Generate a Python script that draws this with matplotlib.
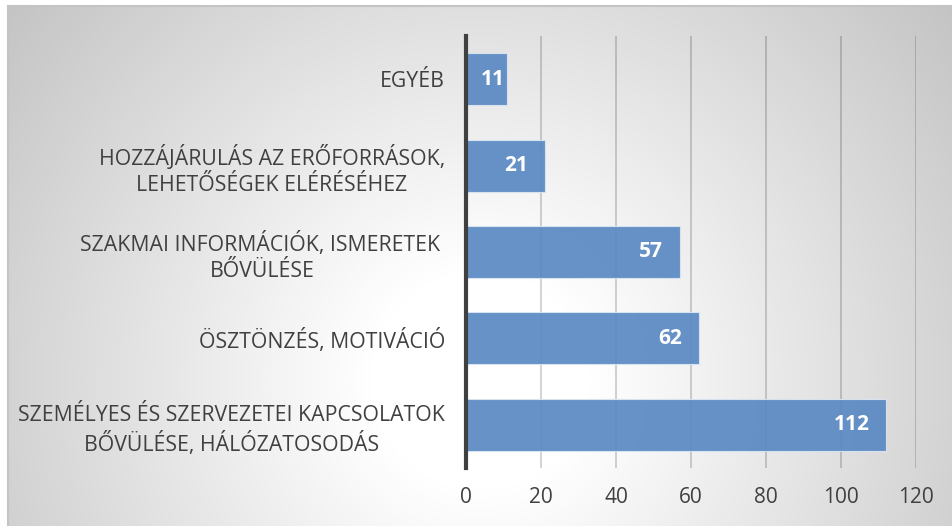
import numpy as np
import matplotlib
matplotlib.use("Agg")
import matplotlib.pyplot as plt
from matplotlib.patches import Rectangle

categories = [
    "SZEMÉLYES ÉS SZERVEZETEI KAPCSOLATOK\nBŐVÜLÉSE, HÁLÓZATOSODÁS",
    "ÖSZTÖNZÉS, MOTIVÁCIÓ",
    "SZAKMAI INFORMÁCIÓK, ISMERETEK \nBŐVÜLÉSE",
    "HOZZÁJÁRULÁS AZ ERŐFORRÁSOK,\nLEHETŐSÉGEK ELÉRÉSÉHEZ",
    "EGYÉB",
]
values = [112, 62, 57, 21, 11]
xticks = [0, 20, 40, 60, 80, 100, 120]

W, H = 952, 526
fig = plt.figure(figsize=(W / 100, H / 100), dpi=100)
fig.patch.set_facecolor("white")

# background radial gradient panel
bg = fig.add_axes([8 / W, 0, 1 - 8 / W, 1 - 6 / H])
bg.set_axis_off()
yy, xx = np.mgrid[6:H:1.0, 8:W:1.0]
r = np.hypot(xx - 480, yy - 380)
t = np.clip((r - 110) / (600 - 110), 0, 1)
shade = 1 - 0.23 * t
bg.imshow(np.dstack([shade] * 3), aspect="auto", extent=[0, 1, 0, 1], origin="upper")
bg.set_xlim(0, 1)
bg.set_ylim(0, 1)
fig.add_artist(Rectangle((8 / W, -0.01), 1, 1 - 6 / H + 0.01, transform=fig.transFigure,
                         fill=False, edgecolor="#c4c4c4", linewidth=1.5))

ax = fig.add_axes([466 / W, 1 - 468 / H, (916 - 466) / W, (468 - 36) / H])
ax.patch.set_alpha(0)
font = "Open Sans"
ypos = np.arange(len(categories))
ax.barh(ypos, values, height=0.6, color="#5a89c3", alpha=0.92,
        edgecolor="#dce6f2", linewidth=0.8, zorder=3)
ax.set_xlim(0, 120)
ax.set_ylim(-0.5, len(categories) - 0.5)
ax.set_xticks(xticks)
ax.set_xticklabels([str(v) for v in xticks], fontsize=15, color="#404040", family=font)
ax.set_yticks(ypos)
ax.set_yticklabels(categories, fontsize=15.3, color="#404040", family=font,
                   multialignment="center", linespacing=1.3)
ax.tick_params(axis="y", length=0, pad=15)
ax.tick_params(axis="x", length=0, pad=14)
ax.grid(axis="x", color="black", alpha=0.2, linewidth=1.2, zorder=1)
ax.set_axisbelow(True)
for s in ["top", "right", "bottom"]:
    ax.spines[s].set_visible(False)
ax.spines["left"].set_color("#404040")
ax.spines["left"].set_linewidth(3)
ax.spines["left"].set_zorder(4)

for y, v in zip(ypos, values):
    off = -12 if v > 15 else -1.5
    ax.annotate(str(v), xy=(v, y), xytext=(off, 0), textcoords="offset points",
                ha="right", va="center", color="white", fontsize=15,
                fontweight="bold", family=font, zorder=5)

fig.savefig("out.png", dpi=100)
